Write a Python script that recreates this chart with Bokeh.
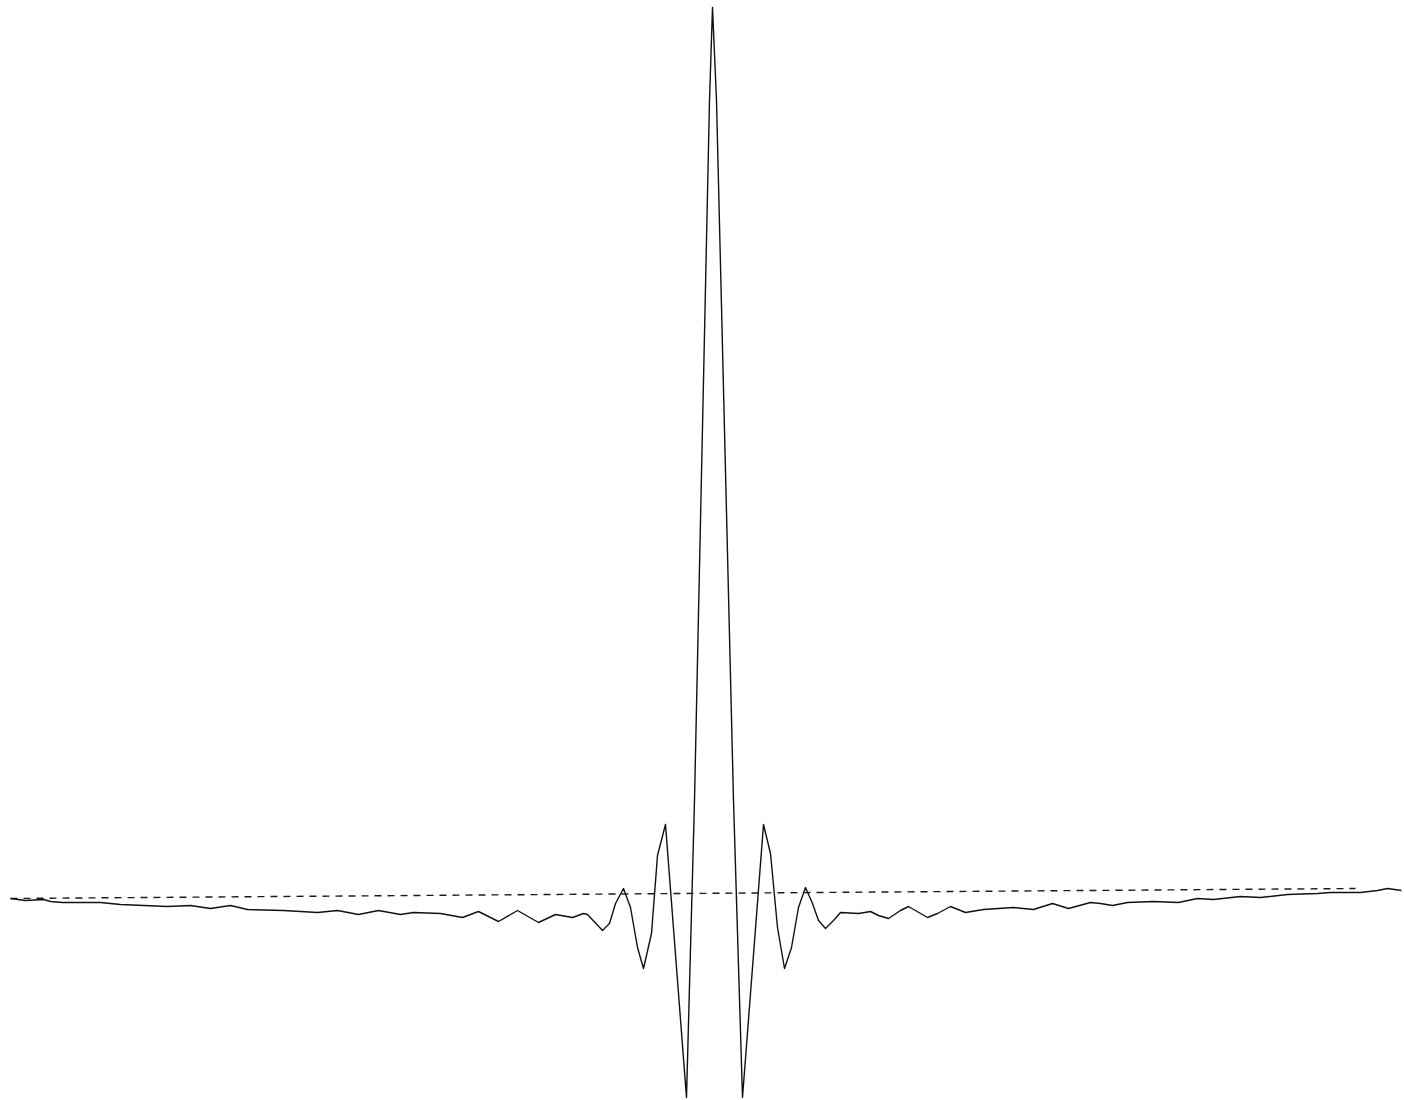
from bokeh.plotting import figure
from bokeh.models import Range1d
from bokeh.embed import file_html
from bokeh.resources import INLINE

# Sample positions (arbitrary units) and amplitude of the waveform
sample_pos = [10, 25, 43, 50, 62, 100, 120, 167, 190, 210, 230, 247, 283, 317, 337, 358, 378,
              400, 413, 440, 462, 478, 498, 517, 538, 555, 572, 583, 587, 602, 609, 615, 623,
              630, 637, 643, 651, 657, 665,
              686, 694, 709, 712, 716, 733, 742,
              763, 770, 777, 784, 791, 798, 805, 812, 818, 825, 833, 840, 858, 870, 878, 888,
              900, 908, 927, 937, 950, 965, 983, 1013, 1033, 1052, 1068, 1090, 1100, 1112,
              1127, 1153, 1178, 1197, 1213, 1240, 1260, 1287, 1317, 1330, 1360, 1377, 1387, 1401]
amplitude = [202, 200, 201, 199, 198, 198, 196, 194, 195, 192, 195, 191, 190, 188, 190, 186, 190,
             186, 188, 187, 183, 189, 179, 190, 178, 186, 183, 187, 186, 170, 177, 197, 212,
             193, 153, 132, 167, 245, 276,
             3, 300, 1000, 1093, 1000, 300, 3,
             276, 247, 173, 132, 153, 193, 213, 197, 180, 172, 180, 188, 187, 189, 185, 182,
             190, 194, 183, 187, 194, 188, 191, 193, 191, 197, 192, 198, 197, 195,
             198, 199, 198, 202, 201, 204, 203, 206, 207, 208, 208, 210, 212, 210]

# Dashed reference (zero) line
ref_pos = [10, 1355]
ref_level = [202, 212]

p = figure(width=1404, height=1100, x_range=Range1d(0, 1404), y_range=Range1d(0, 1100),
           toolbar_location=None, output_backend="svg", min_border=0,
           x_axis_type=None, y_axis_type=None)
p.grid.visible = False
p.outline_line_color = None
p.background_fill_color = "white"
p.border_fill_color = "white"

p.line(ref_pos, ref_level, line_color="#1a1a1a", line_width=1.4, line_dash="7 6")
p.line(sample_pos, amplitude, line_color="#111111", line_width=1.4, line_join="round")

open("out.html", "w").write(file_html(p, INLINE))
